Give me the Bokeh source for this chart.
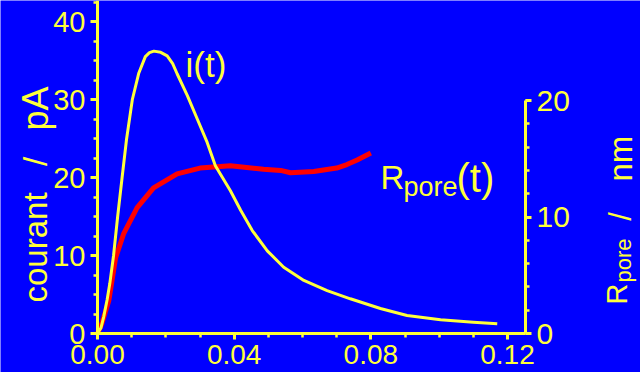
import numpy as np
from bokeh.plotting import figure
from bokeh.models import Range1d, LinearAxis, SingleIntervalTicker, PrintfTickFormatter, Label
from bokeh.embed import file_html
from bokeh.resources import INLINE

# ---- data ----
t_current = [0, 0.001, 0.0018, 0.0028, 0.0036, 0.0047, 0.0059, 0.0072, 0.0085, 0.0102,
             0.0121, 0.014, 0.0152, 0.0165, 0.0185, 0.0204, 0.022, 0.0233, 0.0263, 0.0292,
             0.0321, 0.0345, 0.0389, 0.0419, 0.0453, 0.0497, 0.0545, 0.0604, 0.0672, 0.074,
             0.0828, 0.0906, 0.1004, 0.110, 0.117]
current_pA = [0, 0.7, 2.1, 4.3, 6.4, 10, 15, 20, 24.9, 30,
              33.4, 35.5, 36.0, 36.2, 36.05, 35.6, 34.6, 33.3, 30.5, 27.5,
              24.5, 21.5, 18.3, 15.8, 13.2, 10.6, 8.5, 6.8, 5.5, 4.45,
              3.2, 2.3, 1.75, 1.45, 1.24]

t_radius = [0, 0.0012, 0.0033, 0.0053, 0.0077, 0.0116, 0.0164, 0.0233, 0.030, 0.034,
            0.0389, 0.0486, 0.0536, 0.0565, 0.0633, 0.070, 0.073, 0.076, 0.078, 0.080]
radius_nm = [0, 0.8, 2.8, 6.5, 8.6, 10.8, 12.5, 13.7, 14.2, 14.3,
             14.4, 14.1, 14.0, 13.8, 13.9, 14.2, 14.5, 14.9, 15.2, 15.5]

x_tick_step = 0.04
left_tick_step = 10
right_tick_step = 10
x_label_fmt = "%.2f"
left_title = ["courant", "/", "pA"]
right_title = ["R", "pore", "/", "nm"]
curve_labels = ["i(t)", "R", "pore", "(t)"]

# ---- style / geometry ----
BLUE = "#0000FF"
YEL = "#FFFF3A"
RED = "#FF0000"
FONT = "Liberation Sans"

W, H = 640, 372
X0_PX, Y0_PX = 97, 333          # pixel of (t=0, i=0)
XS = 410 / 0.12                 # px per second
YS = 7.8                        # px per pA
RS = 11.65                      # px per nm
X_AXIS_END = (525 - X0_PX) / XS

x_rng = Range1d(-X0_PX / XS, (W - X0_PX) / XS)
y_rng = Range1d((Y0_PX - H) / YS, Y0_PX / YS)
r_rng = Range1d((Y0_PX - H) / RS, Y0_PX / RS)

p = figure(width=W, height=H, output_backend="svg", toolbar_location=None,
           x_range=x_rng, y_range=y_rng,
           min_border_left=0, min_border_right=0, min_border_top=0, min_border_bottom=0,
           background_fill_color=BLUE, border_fill_color=BLUE, outline_line_color=None)
p.grid.visible = False
p.extra_y_ranges = {"r": r_rng}


def style_axis(ax, size):
    ax.axis_line_color = YEL
    ax.axis_line_width = 3
    ax.major_tick_line_color = YEL
    ax.major_tick_line_width = 3
    ax.minor_tick_line_color = YEL
    ax.minor_tick_line_width = 2.5
    ax.major_tick_in = 0
    ax.major_tick_out = 7
    ax.minor_tick_in = 0
    ax.minor_tick_out = 4
    ax.major_label_text_color = YEL
    ax.major_label_text_font = FONT
    ax.major_label_text_font_size = size


xa = p.xaxis[0]
xa.ticker = SingleIntervalTicker(interval=x_tick_step, num_minor_ticks=4)
xa.formatter = PrintfTickFormatter(format=x_label_fmt)
xa.fixed_location = 0
xa.bounds = (0, X_AXIS_END)
style_axis(xa, "28px")
xa.major_tick_out = 6
xa.major_label_standoff = 5

ya = p.yaxis[0]
ya.ticker = SingleIntervalTicker(interval=left_tick_step, num_minor_ticks=4)
ya.fixed_location = 0
ya.bounds = (0, y_rng.end)
style_axis(ya, "29px")
ya.major_label_standoff = 5

ra = LinearAxis(y_range_name="r",
                ticker=SingleIntervalTicker(interval=right_tick_step, num_minor_ticks=5),
                bounds=(0, 20), fixed_location=X_AXIS_END)
style_axis(ra, "30px")
ra.major_tick_out = 6
ra.major_label_standoff = 5
p.add_layout(ra, "right")

# ---- curves ----
p.line(t_radius, radius_nm, y_range_name="r", line_color=RED, line_width=5, line_join="round")
p.line(t_current, current_pA, line_color=YEL, line_width=3, line_join="round")


# ---- texts (positions given in picture pixels, converted to data units) ----
def dx(px):
    return (px - X0_PX) / XS


def dy(py):
    return (Y0_PX - py) / YS


def add_text(txt, px, py, size, angle=0.0, align="left"):
    p.add_layout(Label(x=dx(px), y=dy(py), text=txt, angle=angle, text_color=YEL,
                       text_font=FONT, text_font_size=size, text_align=align,
                       text_baseline="alphabetic"))


UP = np.pi / 2
# left axis title (rotated, reading upward)
add_text(left_title[0], 35, 302, "33px", UP)
add_text(left_title[1], 35, 161, "33px", UP, "center")
add_text(left_title[2], 35, 130, "36px", UP)

# right axis title
add_text(right_title[0], 616, 304, "29px", UP)
add_text(right_title[1], 623, 282, "22px", UP)
add_text(right_title[2], 620, 216, "31px", UP, "center")
add_text(right_title[3], 620, 181, "33px", UP)

# curve labels
add_text(curve_labels[0], 185, 63.5, "35px")
add_text(curve_labels[1], 380, 177, "33px")
add_text(curve_labels[2], 403, 186, "27px")
add_text(curve_labels[3], 456, 177, "40px")

html = file_html(p, INLINE)
html = html.replace("<body>", '<body style="background-color:#0000FF">', 1)
open("out.html", "w").write(html)
